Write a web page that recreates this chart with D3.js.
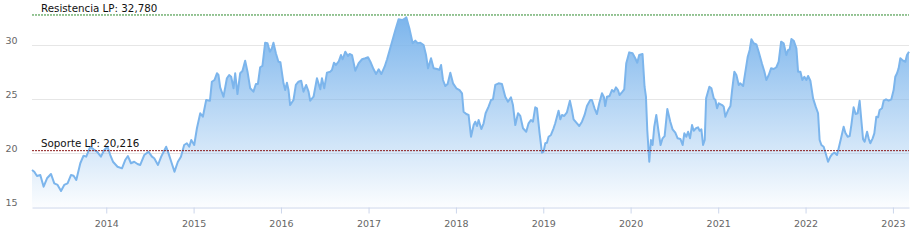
<!DOCTYPE html>
<html><head><meta charset="utf-8">
<script src="https://cdn.jsdelivr.net/npm/d3@7"></script>
<style>body{margin:0;background:#fff}svg{display:block}</style>
</head><body>
<svg id="chart" width="916" height="241"></svg>
<script>
// Dates as decimal years
const dates = [
2013.150,2013.176,2013.207,2013.245,2013.283,2013.322,2013.367,2013.405,2013.443,2013.482,
2013.519,2013.557,2013.596,2013.626,2013.657,2013.703,2013.740,2013.771,2013.817,2013.855,
2013.894,2013.939,2013.977,2014.015,2014.046,2014.077,2014.129,2014.180,2014.217,2014.248,
2014.283,2014.320,2014.358,2014.389,2014.435,2014.484,2014.523,2014.549,2014.592,2014.629,
2014.686,2014.713,2014.744,2014.781,2014.820,2014.855,2014.892,2014.923,2014.950,2014.973,
2015.007,2015.038,2015.076,2015.106,2015.144,2015.187,2015.209,2015.239,2015.267,2015.285,
2015.304,2015.342,2015.381,2015.407,2015.430,2015.457,2015.476,2015.502,2015.533,2015.559,
2015.590,2015.617,2015.648,2015.685,2015.713,2015.736,2015.762,2015.788,2015.819,2015.846,
2015.873,2015.896,2015.914,2015.942,2015.971,2015.994,2016.029,2016.048,2016.068,2016.086,
2016.105,2016.143,2016.170,2016.200,2016.231,2016.257,2016.288,2016.315,2016.334,2016.372,
2016.411,2016.449,2016.468,2016.494,2016.525,2016.563,2016.582,2016.605,2016.628,2016.658,
2016.685,2016.704,2016.735,2016.765,2016.784,2016.811,2016.849,2016.887,2016.926,2016.963,
2016.994,2017.021,2017.058,2017.086,2017.116,2017.146,2017.184,2017.212,2017.269,2017.307,
2017.344,2017.383,2017.410,2017.432,2017.470,2017.505,2017.535,2017.562,2017.593,2017.630,
2017.658,2017.681,2017.715,2017.745,2017.784,2017.810,2017.830,2017.852,2017.879,2017.905,
2017.936,2017.967,2018.005,2018.042,2018.070,2018.088,2018.119,2018.145,2018.173,2018.203,
2018.222,2018.241,2018.260,2018.291,2018.317,2018.340,2018.374,2018.402,2018.424,2018.451,
2018.489,2018.527,2018.565,2018.596,2018.630,2018.653,2018.680,2018.711,2018.737,2018.768,
2018.805,2018.832,2018.859,2018.882,2018.908,2018.928,2018.958,2018.985,2019.003,2019.023,
2019.042,2019.061,2019.088,2019.118,2019.137,2019.175,2019.195,2019.214,2019.240,2019.271,
2019.305,2019.328,2019.347,2019.386,2019.412,2019.443,2019.473,2019.500,2019.538,2019.557,
2019.587,2019.614,2019.641,2019.672,2019.695,2019.709,2019.729,2019.759,2019.786,2019.809,
2019.832,2019.855,2019.873,2019.900,2019.927,2019.950,2019.984,2020.022,2020.053,2020.076,
2020.098,2020.136,2020.159,2020.175,2020.190,2020.213,2020.232,2020.251,2020.270,2020.293,
2020.319,2020.342,2020.365,2020.388,2020.419,2020.453,2020.479,2020.510,2020.537,2020.568,
2020.594,2020.613,2020.636,2020.656,2020.678,2020.701,2020.720,2020.747,2020.770,2020.788,
2020.808,2020.827,2020.846,2020.862,2020.899,2020.922,2020.949,2020.968,2020.987,2021.006,
2021.045,2021.063,2021.082,2021.113,2021.140,2021.159,2021.185,2021.208,2021.235,2021.254,
2021.285,2021.311,2021.338,2021.360,2021.380,2021.406,2021.437,2021.463,2021.502,2021.529,
2021.551,2021.578,2021.605,2021.635,2021.666,2021.692,2021.720,2021.749,2021.780,2021.800,
2021.818,2021.838,2021.864,2021.895,2021.914,2021.941,2021.963,2021.986,2022.009,2022.029,
2022.055,2022.086,2022.116,2022.143,2022.161,2022.181,2022.207,2022.230,2022.257,2022.284,
2022.307,2022.333,2022.360,2022.383,2022.406,2022.436,2022.455,2022.482,2022.505,2022.524,
2022.550,2022.573,2022.596,2022.619,2022.638,2022.658,2022.676,2022.704,2022.722,2022.741,
2022.768,2022.787,2022.810,2022.830,2022.848,2022.875,2022.894,2022.921,2022.951,2022.982,
2023.008,2023.027,2023.047,2023.065,2023.085,2023.116,2023.142,2023.161,2023.184
];
const values = [
18.43,18.27,17.87,17.96,16.88,17.66,18.06,17.19,17.04,16.48,
17.04,17.19,17.96,17.90,17.50,19.05,19.75,19.66,20.58,20.34,
20.12,19.66,20.28,20.58,19.81,19.19,18.73,18.58,19.35,19.72,
19.05,19.19,18.98,18.89,19.81,20.12,19.66,19.51,18.89,19.66,
20.58,19.97,19.19,18.27,19.19,19.66,20.74,20.90,20.58,21.20,
20.74,22.29,23.68,23.36,24.91,24.84,26.60,26.76,27.38,27.22,
26.08,25.21,26.92,27.22,27.06,25.99,27.38,25.46,27.38,27.59,
28.55,27.53,25.99,25.68,26.39,26.39,27.94,28.06,30.21,30.16,
29.38,29.69,30.21,29.23,28.45,28.40,26.45,25.83,26.51,25.83,
24.44,24.91,26.30,26.60,26.69,25.68,26.30,25.68,24.84,25.21,
26.92,25.90,26.92,25.99,27.44,27.53,27.69,28.36,28.15,28.45,
29.07,28.68,29.38,28.98,29.17,29.07,27.62,28.31,28.68,28.77,
28.86,28.45,27.75,27.31,27.75,27.31,27.99,28.68,30.31,31.39,
32.38,32.31,32.41,32.56,31.45,30.16,30.40,30.16,30.21,30.00,
29.07,27.84,28.77,27.84,27.78,27.69,28.15,26.76,26.20,26.39,
27.44,26.45,25.99,25.83,25.53,23.82,23.61,23.52,21.51,22.59,
22.90,22.50,23.06,22.22,22.75,23.68,24.29,24.91,24.97,26.30,
26.45,26.39,25.21,24.75,25.16,24.44,22.59,23.68,23.43,22.29,
21.97,22.75,23.06,22.90,24.23,24.14,21.82,20.03,20.12,20.90,
20.95,21.51,21.67,22.29,22.75,23.92,23.12,23.52,23.43,23.77,
24.84,23.98,23.12,22.75,22.50,22.90,23.52,24.35,24.91,24.91,
24.14,23.61,24.60,25.53,25.16,24.35,25.21,25.28,25.83,25.68,
26.08,25.83,25.37,25.62,25.90,28.31,29.32,29.23,28.77,28.36,
29.07,29.17,26.14,25.21,22.13,19.19,21.20,20.74,22.44,23.52,
21.97,20.74,21.36,21.57,24.07,22.90,22.19,21.88,21.36,21.30,
20.74,21.82,21.51,21.97,21.36,22.59,22.06,22.29,22.38,22.06,
22.19,20.74,21.20,25.06,26.14,25.99,25.06,24.91,24.14,24.60,
24.44,24.29,23.36,23.98,24.35,25.83,27.53,27.22,26.30,26.45,
26.20,27.53,28.92,29.54,30.53,30.16,30.06,29.38,28.24,27.53,
26.76,27.22,27.84,27.78,27.94,28.45,30.31,30.16,29.07,29.54,
29.60,30.56,30.40,29.69,27.53,27.53,26.76,27.06,26.76,27.13,
26.69,25.06,24.29,23.68,21.20,20.74,20.58,19.97,19.19,19.66,
19.91,20.03,19.81,20.58,21.36,22.44,21.88,21.51,21.57,22.59,
24.23,23.61,23.68,24.84,23.06,21.27,21.05,21.97,21.36,20.90,
21.36,21.82,23.36,23.31,23.98,24.14,24.84,24.97,24.84,24.97,
25.83,27.06,27.38,27.84,28.77,28.55,28.45,29.07,29.38
];
const yTicks = [15, 20, 25, 30];
const resistance = 32.780;
const support = 20.216;
const resistanceLabel = "Resistencia LP: 32,780";
const supportLabel = "Soporte LP: 20,216";

function toDate(dy) {
  const yr = Math.floor(dy);
  const s = new Date(yr, 0, 1), e = new Date(yr + 1, 0, 1);
  return new Date(+s + (dy - yr) * (e - s));
}
const data = dates.map((d, i) => ({ date: toDate(d), value: values[i] }));

const svg = d3.select("#chart");
const L = 32, R = 909, T = 12.6, B = 207;
const x = d3.scaleTime().domain(d3.extent(data, d => d.date)).range([L, R]);
const y = d3.scaleLinear().domain([15, 33]).range([B, T]);

svg.append("rect").attr("width", 916).attr("height", 241).attr("fill", "#fff");

const defs = svg.append("defs");
const grad = defs.append("linearGradient").attr("id", "fillGrad")
  .attr("gradientUnits", "userSpaceOnUse")
  .attr("x1", 0).attr("x2", 0).attr("y1", y(d3.max(values))).attr("y2", B);
grad.append("stop").attr("offset", 0).attr("stop-color", "#7cb5ec").attr("stop-opacity", 1);
grad.append("stop").attr("offset", 1).attr("stop-color", "#7cb5ec").attr("stop-opacity", 0.03);

// grid
svg.append("g").selectAll("line").data(yTicks.filter(t => t > 15)).join("line")
  .attr("x1", L).attr("x2", R).attr("y1", d => Math.round(y(d)) + 0.5).attr("y2", d => Math.round(y(d)) + 0.5)
  .attr("stroke", "#e6e6e6").attr("stroke-width", 1);

// area + line
svg.append("path").datum(data)
  .attr("d", d3.area().x(d => x(d.date)).y0(B).y1(d => y(d.value)))
  .attr("fill", "url(#fillGrad)");
svg.append("path").datum(data)
  .attr("d", d3.line().x(d => x(d.date)).y(d => y(d.value)))
  .attr("fill", "none").attr("stroke", "#7cb5ec").attr("stroke-width", 2)
  .attr("stroke-linejoin", "round");

// x axis
const xAxis = d3.axisBottom(x).ticks(d3.timeYear.every(1)).tickFormat(d3.timeFormat("%Y"))
  .tickSize(6).tickSizeOuter(0).tickPadding(5);
const gx = svg.append("g").attr("transform", `translate(0,${B + 0.5})`).call(xAxis);
gx.select(".domain").attr("stroke", "#ccd6eb");
gx.selectAll(".tick line").attr("stroke", "#ccd6eb");
gx.selectAll(".tick text").attr("fill", "#666").attr("font-family", "DejaVu Sans")
  .attr("font-size", "9.5px").attr("dy", "0.9em");

// y labels
svg.append("g").selectAll("text").data(yTicks).join("text")
  .attr("x", 17.5).attr("y", d => y(d) - 1.5)
  .attr("text-anchor", "end").attr("fill", "#666")
  .attr("font-family", "DejaVu Sans").attr("font-size", "9.5px")
  .text(d => d);

// plot lines
svg.append("line").attr("x1", L).attr("x2", R)
  .attr("y1", y(resistance)).attr("y2", y(resistance))
  .attr("stroke", "#2e8b2e").attr("stroke-width", 1).attr("stroke-dasharray", "2,1");
svg.append("line").attr("x1", L).attr("x2", R)
  .attr("y1", y(support)).attr("y2", y(support))
  .attr("stroke", "#8b1a1a").attr("stroke-width", 1).attr("stroke-dasharray", "2,1");

svg.append("text").attr("x", 41).attr("y", y(resistance) - 2.5)
  .attr("font-family", "DejaVu Sans").attr("font-size", "10.3px").attr("fill", "#111")
  .text(resistanceLabel);
svg.append("text").attr("x", 41).attr("y", y(support) - 3.5)
  .attr("font-family", "DejaVu Sans").attr("font-size", "10.3px").attr("fill", "#111")
  .text(supportLabel);
</script>
</body></html>
